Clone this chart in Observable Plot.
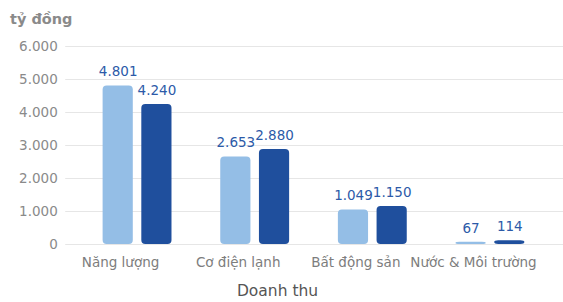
<!DOCTYPE html>
<html>
<head>
<meta charset="utf-8">
<script src="https://cdn.jsdelivr.net/npm/d3@7"></script>
<script src="https://cdn.jsdelivr.net/npm/@observablehq/plot@0.6"></script>
<style>
  html, body { margin: 0; padding: 0; background: #fff; }
  #wrap { position: relative; width: 563px; height: 302px; font-family: "DejaVu Sans", sans-serif; }
  #unit { position: absolute; left: 10px; top: 11px; font-size: 14.5px; font-weight: bold; color: #8a8a8a; }
  #xlabel { position: absolute; left: 0; width: 555px; top: 282px; text-align: center; font-size: 15.5px; color: #555; }
</style>
</head>
<body>
<div id="wrap">
  <div id="chart"></div>
  <div id="unit">tỷ đồng</div>
  <div id="xlabel">Doanh thu</div>
</div>
<script>
const categories = ["Năng lượng", "Cơ điện lạnh", "Bất động sản", "Nước & Môi trường"];
const seriesKeys = ["s1", "s2"];
const values1 = [4801, 2653, 1049, 67];
const values2 = [4240, 2880, 1150, 114];
const yTicks = [0, 1000, 2000, 3000, 4000, 5000, 6000];
const colors = ["#94bee6", "#1f4f9d"];

const rows = [];
categories.forEach((c, i) => {
  rows.push({category: c, series: seriesKeys[0], value: values1[i]});
  rows.push({category: c, series: seriesKeys[1], value: values2[i]});
});
const fmt = v => v.toLocaleString("vi-VN");

const chart = Plot.plot({
  width: 563,
  height: 302,
  marginLeft: 66,
  marginRight: 2,
  marginTop: 46,
  marginBottom: 58,
  style: {fontFamily: "DejaVu Sans, sans-serif", fontSize: "13.5px", background: "#fff"},
  fx: {domain: categories, paddingInner: 0, paddingOuter: 0.104, round: false},
  x: {domain: seriesKeys, paddingInner: 0.22, paddingOuter: 0.63, axis: null, round: false},
  y: {domain: [0, 6000]},
  color: {domain: seriesKeys, range: colors},
  marks: [
    Plot.ruleY(yTicks, {stroke: "#e6e6e6", strokeWidth: 1.2, insetLeft: -13, insetRight: -16}),
    Plot.axisY({ticks: yTicks, tickSize: 0, tickPadding: 21, tickFormat: fmt, label: null, color: "#8a8a8a", fontSize: "13.5px"}),
    Plot.axisFx({anchor: "bottom", tickSize: 0, tickPadding: 13, dx: -17, label: null, color: "#7d7d7d", fontWeight: 500, fontSize: "13.5px"}),
    Plot.barY(rows, {fx: "category", x: "series", y: "value", fill: "series", rx: 4}),
    Plot.text(rows, {fx: "category", x: "series", y: "value", text: d => fmt(d.value), dy: -14, fill: "#2c5aa8", fontSize: "13.5px"})
  ]
});
document.getElementById("chart").appendChild(chart);
</script>
</body>
</html>
